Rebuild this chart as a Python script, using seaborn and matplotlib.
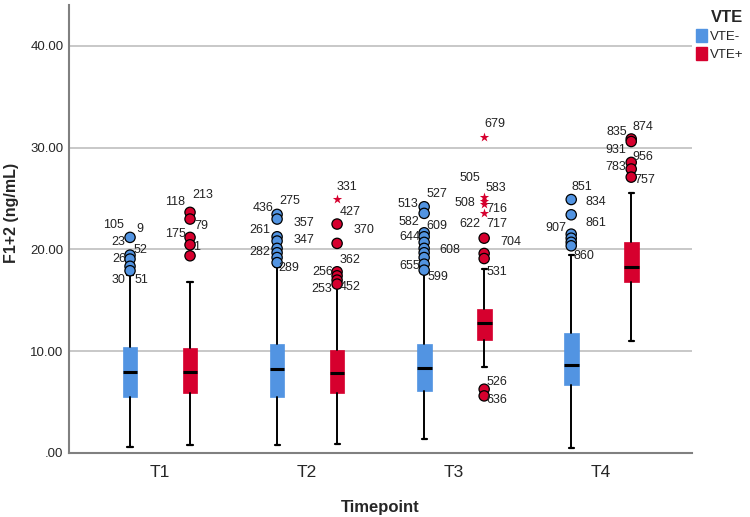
import numpy as np
import pandas as pd
import matplotlib
matplotlib.use("Agg")
import matplotlib.pyplot as plt
import seaborn as sns

# === Data ===
timepoints = ["T1", "T2", "T3", "T4"]
groups = ["VTE-", "VTE+"]

# five-number summaries per timepoint, for each group
neg_whislo = [0.56, 0.82, 1.35, 0.46]
neg_q1 = [5.51, 5.51, 6.10, 6.72]
neg_med = [7.93, 8.26, 8.30, 8.62]
neg_q3 = [10.36, 10.69, 10.69, 11.80]
neg_whishi = [17.5, 18.3, 17.64, 19.44]

pos_whislo = [0.76, 0.86, 8.49, 11.01]
pos_q1 = [5.84, 5.87, 11.08, 16.76]
pos_med = [7.97, 7.90, 12.75, 18.29]
pos_q3 = [10.33, 10.13, 14.13, 20.72]
pos_whishi = [16.75, 16.3, 18.06, 25.5]

# outliers (circles) and extremes (stars)
neg_outliers = [
    [21.18, 19.44, 19.05, 18.34, 17.9],
    [23.44, 22.98, 21.24, 20.82, 20.1, 19.67, 19.2, 18.7],
    [24.19, 23.54, 21.63, 21.24, 20.69, 20.1, 19.67, 19.2, 18.55, 17.96],
    [24.9, 23.4, 21.5, 21.1, 20.7, 20.35],
]
pos_outliers = [
    [23.64, 22.98, 21.18, 20.45, 19.37],
    [22.49, 20.59, 17.8, 17.4, 16.98, 16.59],
    [21.1, 19.6, 19.1, 6.26, 5.6],
    [30.85, 30.6, 28.55, 27.9, 27.1],
]
pos_extremes = [
    [],
    [25.0],
    [31.07, 25.1, 24.8, 24.5, 23.54],
    [],
]

# case labels: (timepoint index, group index, value of the point, label)
case_labels = [
    (0, 0, 21.18, "105"), (0, 0, 21.18, "9"), (0, 0, 19.44, "23"), (0, 0, 19.44, "52"),
    (0, 0, 19.05, "26"), (0, 0, 17.9, "30"), (0, 0, 17.9, "51"),
    (0, 1, 23.64, "118"), (0, 1, 23.64, "213"), (0, 1, 22.98, "79"),
    (0, 1, 21.18, "175"), (0, 1, 20.45, "1"),
    (1, 0, 23.44, "436"), (1, 0, 23.44, "275"), (1, 0, 22.98, "357"), (1, 0, 21.24, "261"),
    (1, 0, 21.24, "347"), (1, 0, 20.1, "282"), (1, 0, 18.7, "289"),
    (1, 1, 25.0, "331"), (1, 1, 22.49, "427"), (1, 1, 20.59, "370"), (1, 1, 17.8, "362"),
    (1, 1, 17.8, "256"), (1, 1, 16.59, "253"), (1, 1, 16.59, "452"),
    (2, 0, 24.19, "527"), (2, 0, 24.19, "513"), (2, 0, 21.63, "582"), (2, 0, 21.63, "609"),
    (2, 0, 21.24, "644"), (2, 0, 20.1, "608"), (2, 0, 18.55, "655"), (2, 0, 17.96, "599"),
    (2, 1, 31.07, "679"), (2, 1, 25.1, "505"), (2, 1, 25.1, "583"), (2, 1, 24.8, "508"),
    (2, 1, 23.54, "716"), (2, 1, 21.1, "622"), (2, 1, 21.1, "717"), (2, 1, 19.6, "704"),
    (2, 1, 19.1, "531"), (2, 1, 6.26, "526"), (2, 1, 5.6, "636"),
    (3, 0, 24.9, "851"), (3, 0, 23.4, "834"), (3, 0, 21.5, "861"), (3, 0, 21.5, "907"),
    (3, 0, 20.35, "860"),
    (3, 1, 30.85, "835"), (3, 1, 30.85, "874"), (3, 1, 30.6, "931"), (3, 1, 28.55, "956"),
    (3, 1, 27.9, "783"), (3, 1, 27.1, "757"),
]
# label offsets from their point, in pixels (same order as case_labels)
label_offsets = [
    (-17, 12), (10, 8), (-12, 13), (10, 5), (-11, 0), (-12, -9), (11, -9),
    (-15, 10), (13, 17), (11, -7), (-15, 3), (7, -2),
    (-14, 6), (13, 13), (27, -4), (-17, 7), (27, -3), (-17, -4), (12, -5),
    (10, 12), (13, 12), (27, 13), (13, 12), (-14, 0), (-15, -5), (13, -3),
    (13, 13), (-16, 3), (-15, 11), (13, 7), (-14, 0), (26, -2), (-14, -2), (14, -7),
    (11, 13), (-14, 19), (12, 9), (-19, -2), (13, 4), (-14, 14), (13, 14), (27, 11),
    (13, -13), (13, 7), (13, -4),
    (11, 13), (25, 13), (25, 11), (-15, 6), (13, -10),
    (-14, 7), (12, 12), (-15, -8), (12, 5), (-16, 2), (14, -3),
]

# === Style ===
palette = {"VTE-": "#5294e2", "VTE+": "#d6002e"}
sns.set_style("white")
plt.rcParams["font.family"] = ["Liberation Sans", "DejaVu Sans"]

fig = plt.figure(figsize=(7.5, 5.17), dpi=100)
ax = fig.add_axes([0.092, 0.124, 0.831, 0.866])

offset = 0.204
box_w = 0.1

summaries = {
    "VTE-": (neg_whislo, neg_q1, neg_med, neg_q3, neg_whishi),
    "VTE+": (pos_whislo, pos_q1, pos_med, pos_q3, pos_whishi),
}

for gi, grp in enumerate(groups):
    lo, q1, med, q3, hi = summaries[grp]
    stats = [
        dict(whislo=lo[i], q1=q1[i], med=med[i], q3=q3[i], whishi=hi[i], fliers=[])
        for i in range(len(timepoints))
    ]
    pos = np.arange(len(timepoints)) + (gi - 0.5) * 2 * offset
    ax.bxp(
        stats, positions=pos, widths=box_w, patch_artist=True, showfliers=False,
        boxprops=dict(facecolor=palette[grp], edgecolor=palette[grp], linewidth=0.5),
        medianprops=dict(color="black", linewidth=2.2),
        whiskerprops=dict(color="black", linewidth=1.4),
        capprops=dict(color="black", linewidth=1.6),
        capwidths=0.035, zorder=3,
    )

# outliers as a tidy frame so seaborn handles the hue colours
rows = []
for i, tp in enumerate(timepoints):
    for v in neg_outliers[i]:
        rows.append((i, "VTE-", v, "o"))
    for v in pos_outliers[i]:
        rows.append((i, "VTE+", v, "o"))
    for v in pos_extremes[i]:
        rows.append((i, "VTE+", v, "*"))
out = pd.DataFrame(rows, columns=["tp", "VTE", "value", "kind"])
out["x"] = out["tp"] + out["VTE"].map({"VTE-": -offset, "VTE+": offset})

circ = out[out["kind"] == "o"]
sns.scatterplot(data=circ, x="x", y="value", hue="VTE", palette=palette, s=55,
                edgecolor="black", linewidth=0.9, legend=False, ax=ax, zorder=4)
star = out[out["kind"] == "*"]
sns.scatterplot(data=star, x="x", y="value", color=palette["VTE+"], marker="*", s=50,
                linewidth=0, legend=False, ax=ax, zorder=4)

for (ti, gi, v, txt), (dx, dy) in zip(case_labels, label_offsets):
    ax.annotate(txt, xy=(ti + (gi - 0.5) * 2 * offset, v), xytext=(dx, dy),
                textcoords="offset pixels", ha="center", va="center",
                fontsize=9, color="#222222", zorder=5)

# === Axes ===
ax.set_xlim(-0.619, 3.619)
ax.set_ylim(0, 44)
ax.set_yticks([0, 10, 20, 30, 40])
ax.set_yticklabels([".00", "10.00", "20.00", "30.00", "40.00"], fontsize=9.5)
ax.set_xticks(range(len(timepoints)))
ax.set_xticklabels(timepoints, fontsize=12.5)
ax.tick_params(axis="both", length=0)
ax.tick_params(axis="y", pad=4)
ax.tick_params(axis="x", pad=9)
ax.yaxis.grid(True, color="#c4c4c4", linewidth=1.3)
ax.set_axisbelow(True)
for s in ["top", "right"]:
    ax.spines[s].set_visible(False)
for s in ["left", "bottom"]:
    ax.spines[s].set_color("#808080")
    ax.spines[s].set_linewidth(1.5)

ax.set_xlabel("Timepoint", fontsize=12, fontweight="bold", labelpad=14)
ax.set_ylabel("F1+2 (ng/mL)", fontsize=11.5, fontweight="bold")
ax.yaxis.set_label_coords(-0.081, 0.537)

handles = [plt.Rectangle((0, 0), 1, 1, color=palette[g]) for g in groups]
leg = fig.legend(handles, groups, title="VTE", loc="upper left",
                 bbox_to_anchor=(0.925, 0.985), frameon=False, fontsize=9.5,
                 title_fontproperties={"weight": "bold", "size": 12},
                 handlelength=0.8, handleheight=1.1, handletextpad=0.2,
                 labelspacing=0.3, borderpad=0.2, borderaxespad=0)
leg._legend_box.align = "right"

fig.savefig("out.png", dpi=100)
